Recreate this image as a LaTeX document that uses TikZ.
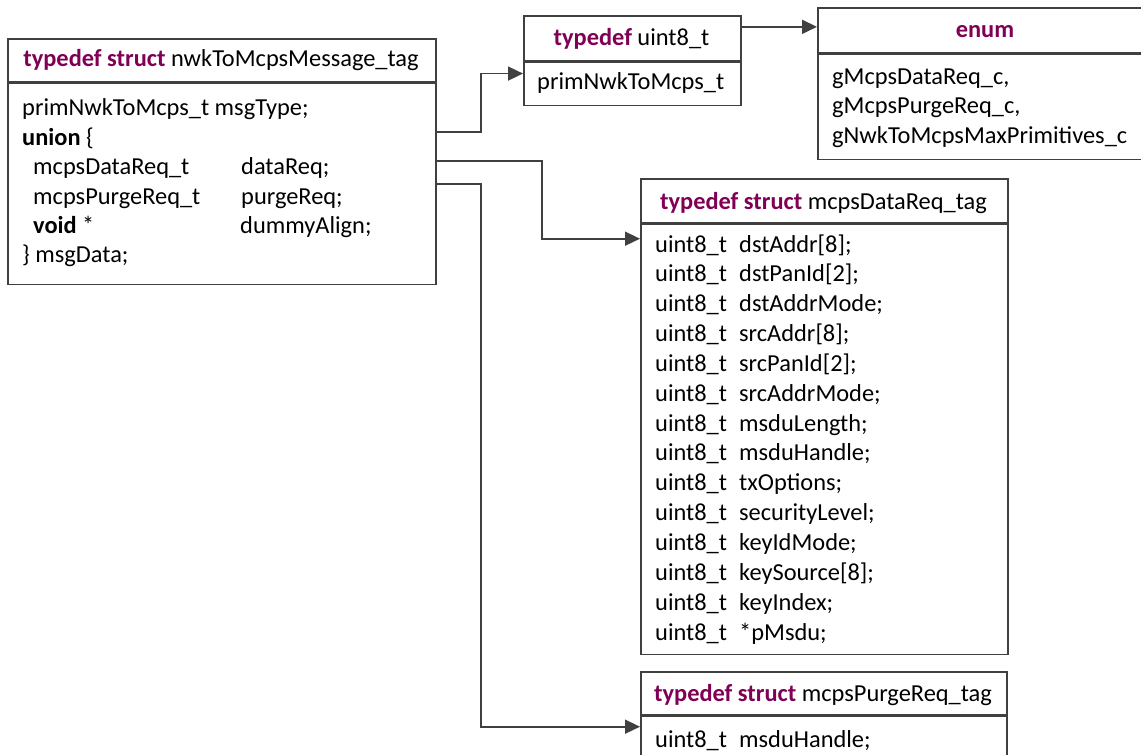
\documentclass[tikz,border=0pt]{standalone}
\usepackage{fontspec}
\setmainfont{Carlito}
\usetikzlibrary{arrows.meta}
\definecolor{kwcolor}{HTML}{7F0055}
\definecolor{edgecolor}{HTML}{404040}
\newcommand{\kwd}[1]{\textcolor{kwcolor}{\textbf{#1}}}
\begin{document}
\begin{tikzpicture}[x=1pt,y=-1pt,
  font=\fontsize{24.4}{29.8}\selectfont,
  box/.style={draw=edgecolor, line width=1.7pt, rectangle, inner sep=0pt, anchor=north west},
  txt/.style={anchor=base west, inner sep=0pt},
  ctxt/.style={anchor=base, inner sep=0pt},
  conn/.style={draw=edgecolor, line width=1.7pt, -{Triangle[length=15pt,width=14pt]}}]

\clip (0,0) rectangle (1141,755);

% struct nwkToMcpsMessage_tag
\node[box, minimum width=428pt, minimum height=43pt] (mainhead) at (7,38) {};
\node[box, minimum width=428pt, minimum height=201pt] (mainbody) at (mainhead.south west) {};
\node[ctxt] (mainttl) at (221,66) {\kwd{typedef struct} nwkToMcpsMessage\_tag};
\node[txt] (m1) at (22,115) {primNwkToMcps\_t msgType;};
\node[txt] (m2) at (22,145) {\textbf{union} \{};
\node[txt] (m3a) at (33,174) {mcpsDataReq\_t};
\node[txt] (m3b) at (241,174) {dataReq;};
\node[txt] (m4a) at (33,204) {mcpsPurgeReq\_t};
\node[txt] (m4b) at (241,204) {purgeReq;};
\node[txt] (m5a) at (33,233) {\textbf{void} *};
\node[txt] (m5b) at (240,233) {dummyAlign;};
\node[txt] (m6) at (22,262) {\} msgData;};

% typedef uint8_t primNwkToMcps_t
\node[box, minimum width=217pt, minimum height=45pt] (u8head) at (523,15) {};
\node[box, minimum width=217pt, minimum height=43pt] (u8body) at (u8head.south west) {};
\node[ctxt] (u8ttl) at (631.5,45) {\kwd{typedef} uint8\_t};
\node[txt] (u8txt) at (537,89) {primNwkToMcps\_t};

% enum of primitives
\node[box, minimum width=336pt, minimum height=45pt] (enumhead) at (817,7) {};
\node[box, minimum width=336pt, minimum height=105pt] (enumbody) at (enumhead.south west) {};
\node[ctxt] (enumttl) at (985,37) {\kwd{enum}};
\node[txt] (e1) at (832,84) {gMcpsDataReq\_c,};
\node[txt] (e2) at (832,113.5) {gMcpsPurgeReq\_c,};
\node[txt] (e3) at (832,143) {gNwkToMcpsMaxPrimitives\_c};

% struct mcpsDataReq_tag
\node[box, minimum width=367pt, minimum height=44pt] (datahead) at (640,178) {};
\node[box, minimum width=367pt, minimum height=430pt] (databody) at (datahead.south west) {};
\node[ctxt] (datattl) at (823.5,209) {\kwd{typedef struct} mcpsDataReq\_tag};
\foreach \f [count=\i from 0] in {dstAddr[8];, dstPanId[2];, dstAddrMode;, srcAddr[8];,
    srcPanId[2];, srcAddrMode;, msduLength;, msduHandle;, txOptions;, securityLevel;,
    keyIdMode;, keySource[8];, keyIndex;, *pMsdu;} {
  \node[txt] (dt\i) at (655,252+29.85*\i) {uint8\_t};
  \node[txt] (df\i) at (739,252+29.85*\i) {\f};
}

% struct mcpsPurgeReq_tag
\node[box, minimum width=366pt, minimum height=43pt] (purgehead) at (640,671) {};
\node[box, minimum width=366pt, minimum height=80pt] (purgebody) at (purgehead.south west) {};
\node[ctxt] (purgettl) at (823,701) {\kwd{typedef struct} mcpsPurgeReq\_tag};
\node[txt] (pt0) at (655,747) {uint8\_t};
\node[txt] (pf0) at (739,747) {msduHandle;};

% references between the types
\draw[conn] ([yshift=-49pt]mainbody.north east) -- ++(44,0) |- ([yshift=10.5pt]u8body.west);
\draw[conn] ([yshift=11.5pt]u8head.east) -- ([yshift=11.5pt]u8head.east -| enumhead.west);
\draw[conn] ([yshift=-78pt]mainbody.north east) -- ++(105,0) |- ([yshift=-15pt]databody.north west);
\draw[conn] ([yshift=-101pt]mainbody.north east) -- ++(44,0) |- ([yshift=-11pt]purgebody.north west);
\end{tikzpicture}
\end{document}
